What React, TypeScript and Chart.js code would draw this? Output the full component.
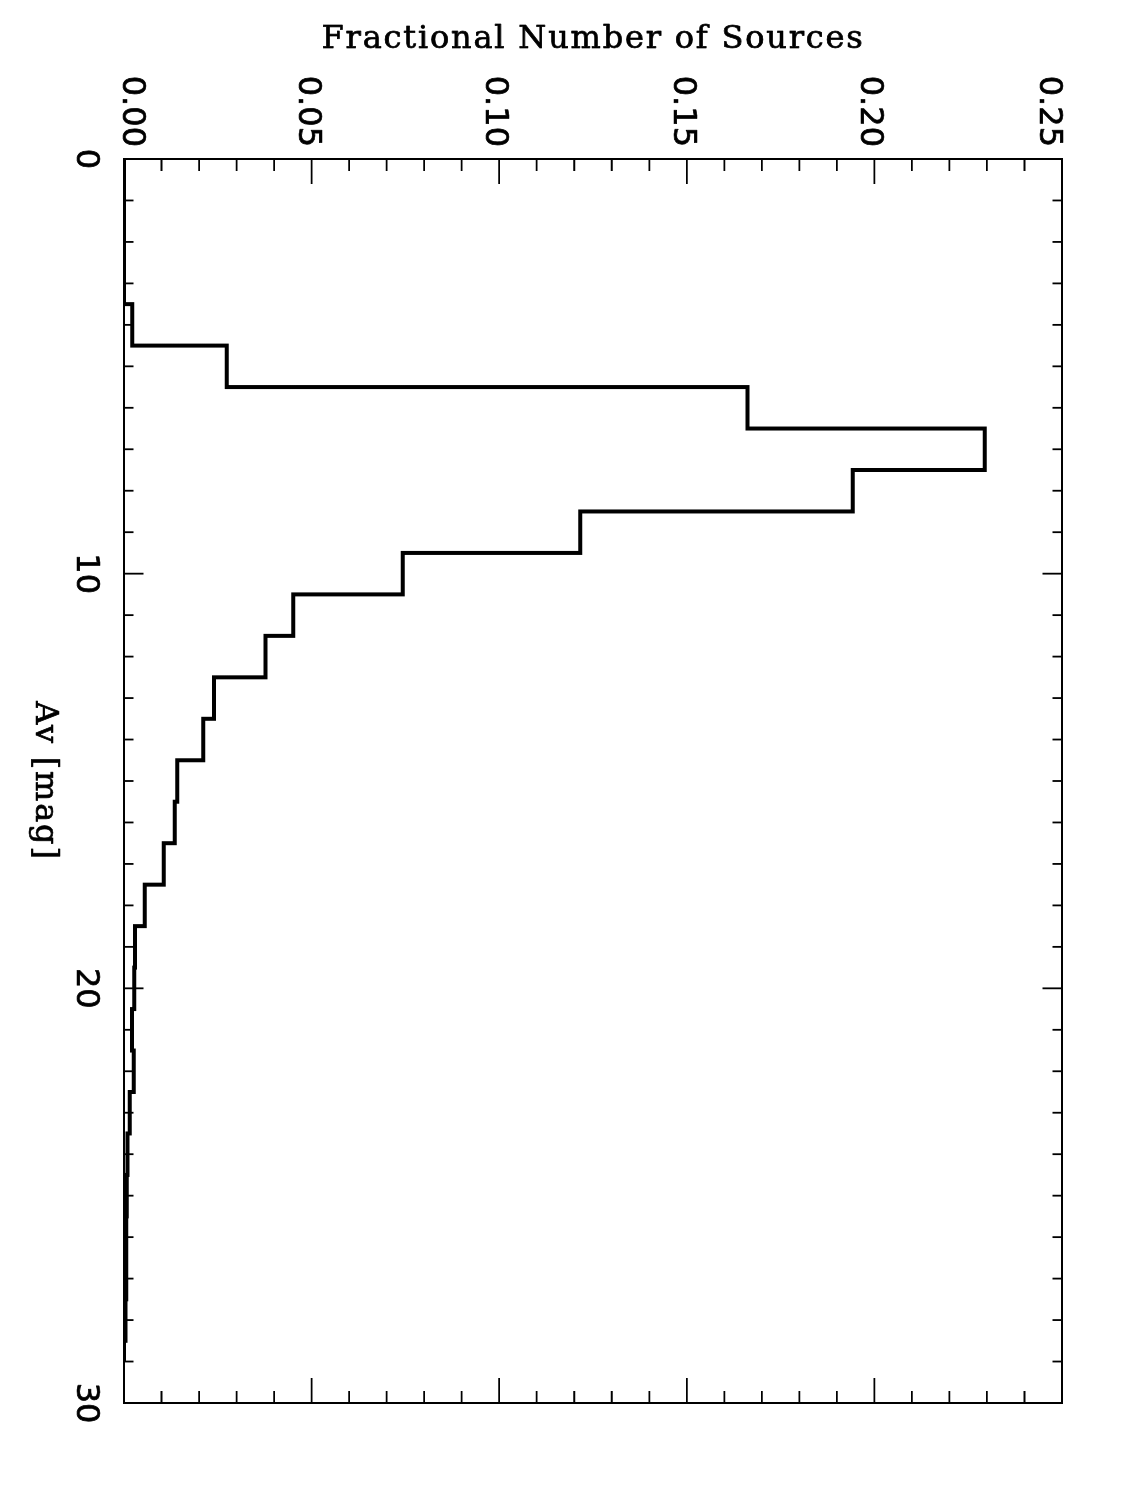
import { useEffect, useRef } from "react";
import { Chart, registerables } from "chart.js";

Chart.register(...registerables);

// Av bin centres (mag) and fraction of sources per bin
const avBins = [0, 1, 2, 3, 4, 5, 6, 7, 8, 9, 10, 11, 12, 13, 14, 15, 16, 17, 18, 19, 20, 21, 22, 23, 24, 25, 26, 27, 28, 29];
const fractionOfSources = [
  0, 0, 0, 0, 0.0022, 0.0274, 0.1662, 0.2294, 0.1942, 0.1216,
  0.0743, 0.0451, 0.0377, 0.024, 0.0211, 0.0142, 0.0135, 0.0106, 0.0055, 0.0029,
  0.0027, 0.0021, 0.0026, 0.0015, 0.0009, 0.0007, 0.0006, 0.0006, 0.0004, 0,
];

const avTicks = [0, 10, 20, 30];
const avTickLabels = ["0", "10", "20", "30"];
const fracTicks = [0, 0.05, 0.1, 0.15, 0.2, 0.25];
const fracTickLabels = ["0.00", "0.05", "0.10", "0.15", "0.20", "0.25"];

const X_TITLE = "Av [mag]";
const Y_TITLE = "Fractional Number of Sources";

// canvas is drawn landscape, then turned 90deg clockwise like the original postscript page
const W = 1500;
const H = 1125;

// fill + thin stroke so the glyphs get the heavier vector-font look
function heavyText(ctx: CanvasRenderingContext2D, text: string, x: number, y: number) {
  ctx.fillText(text, x, y);
  ctx.strokeText(text, x, y);
}

// IDL-style box with inward ticks on all four sides
const idlAxes = {
  id: "idlAxes",
  afterDatasetsDraw(chart: any) {
    const { ctx, chartArea: a, scales } = chart;
    const xs = scales.x;
    const ys = scales.y;
    ctx.save();
    ctx.strokeStyle = "#000";
    ctx.fillStyle = "#000";
    ctx.lineWidth = 2;
    ctx.strokeRect(a.left, a.top, a.right - a.left, a.bottom - a.top);

    ctx.lineWidth = 1.8;
    ctx.beginPath();
    // Av ticks: minor every 1 mag, major every 10
    for (let v = 0; v <= 30; v++) {
      const px = xs.getPixelForValue(v);
      const len = v % 10 === 0 ? 19.5 : 9.5;
      ctx.moveTo(px, a.bottom);
      ctx.lineTo(px, a.bottom - len);
      ctx.moveTo(px, a.top);
      ctx.lineTo(px, a.top + len);
    }
    // fraction ticks: minor every 0.01, major every 0.05
    for (let i = 0; i <= 25; i++) {
      const py = ys.getPixelForValue(i / 100);
      const len = i % 5 === 0 ? 25 : 12;
      ctx.moveTo(a.left, py);
      ctx.lineTo(a.left + len, py);
      ctx.moveTo(a.right, py);
      ctx.lineTo(a.right - len, py);
    }
    ctx.stroke();

    ctx.lineWidth = 0.7;
    ctx.lineJoin = "round";
    ctx.font = '32px "DejaVu Sans"';
    ctx.textBaseline = "alphabetic";
    ctx.textAlign = "center";
    avTicks.forEach((v, i) => {
      heavyText(ctx, avTickLabels[i], xs.getPixelForValue(v), a.bottom + 47);
    });
    ctx.textAlign = "right";
    fracTicks.forEach((v, i) => {
      // end labels get pulled inside the axis range
      let dy = 13;
      if (i === 0) dy = 1;
      if (i === fracTicks.length - 1) dy = 22;
      heavyText(ctx, fracTickLabels[i], a.left - 12, ys.getPixelForValue(v) + dy);
    });

    ctx.font = '32px "DejaVu Serif"';
    ctx.letterSpacing = "1.8px";
    ctx.textAlign = "center";
    heavyText(ctx, X_TITLE, (a.left + a.right) / 2, a.bottom + 88);
    ctx.translate(48, (a.top + a.bottom) / 2);
    ctx.rotate(-Math.PI / 2);
    heavyText(ctx, Y_TITLE, 0, 0);
    ctx.restore();
  },
};

export default function App() {
  const canvasRef = useRef<HTMLCanvasElement>(null);
  const chartRef = useRef<Chart | null>(null);

  useEffect(() => {
    document.body.style.margin = "0";
    if (!canvasRef.current) return;
    const ctx = canvasRef.current.getContext("2d");
    if (!ctx) return;

    if (chartRef.current) {
      chartRef.current.destroy();
    }

    chartRef.current = new Chart(ctx, {
      type: "line",
      data: {
        datasets: [
          {
            data: avBins.map((av, i) => ({ x: av, y: fractionOfSources[i] })),
            stepped: "middle",
            borderColor: "#000",
            borderWidth: 4,
            borderJoinStyle: "miter",
            borderCapStyle: "butt",
            pointRadius: 0,
            fill: false,
          },
        ],
      },
      options: {
        responsive: false,
        animation: false,
        events: [],
        layout: { padding: { left: 159, right: 97, top: 63, bottom: 124 } },
        scales: {
          x: { type: "linear", min: 0, max: 30, display: false },
          y: { type: "linear", min: 0, max: 0.25, display: false },
        },
        plugins: {
          legend: { display: false },
          tooltip: { enabled: false },
        },
      },
      plugins: [idlAxes],
    } as any);

    return () => {
      if (chartRef.current) {
        chartRef.current.destroy();
        chartRef.current = null;
      }
    };
  }, []);

  return (
    <div style={{ position: "relative", width: H, height: W, overflow: "hidden", background: "#fff" }}>
      <div
        style={{
          position: "absolute",
          left: 0,
          top: 0,
          width: W,
          height: H,
          transformOrigin: "0 0",
          transform: `translateX(${H}px) rotate(90deg)`,
        }}
      >
        <canvas ref={canvasRef} width={W} height={H} style={{ width: W, height: H }} />
      </div>
    </div>
  );
}
